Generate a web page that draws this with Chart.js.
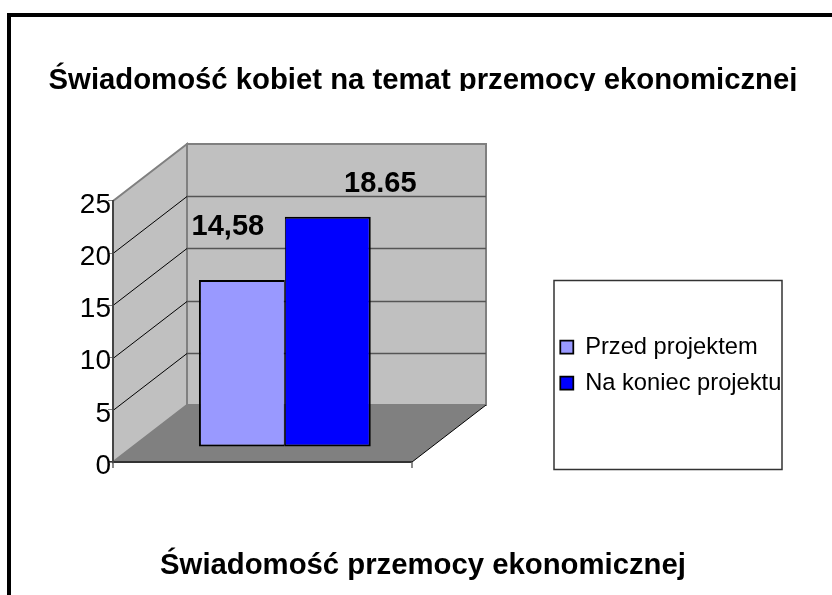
<!DOCTYPE html>
<html><head><meta charset="utf-8">
<script src="https://cdn.jsdelivr.net/npm/chart.js@4"></script>
<style>
html,body{margin:0;padding:0;background:#fff;overflow:hidden}
#frame{position:absolute;left:7px;top:13px;right:0;bottom:-10px;border-top:4px solid #000;border-left:4px solid #000}
canvas{position:absolute;left:14px;top:0}
</style></head><body>
<div id="frame"></div>
<canvas id="c" width="818" height="595"></canvas>
<script>
const categories = ['Świadomość przemocy ekonomicznej'];
const seriesNames = ['Przed projektem', 'Na koniec projektu'];
const beforeValues = [15.95];
const afterValues = [22.0];
const valueLabels = ['14,58', '18.65'];
const seriesColors = ['#9999FF', '#0000FF'];
const titleText = 'Świadomość kobiet na temat przemocy ekonomicznej';
const FONT = '"Liberation Sans", Arial, sans-serif';

const depth = {dx: 74, dy: -57};
const frontWidth = 299;

const scene = {
  id: 'scene',
  beforeDraw(chart) {
    const {ctx, chartArea: a, scales: {y}} = chart;
    const L = a.left, B = y.getPixelForValue(0), T = y.getPixelForValue(25);
    const R = L + frontWidth, bx = L + depth.dx, bR = R + depth.dx;
    const bT = T + depth.dy, bB = B + depth.dy;
    ctx.save();
    ctx.fillStyle = '#C0C0C0';
    ctx.strokeStyle = '#808080';
    ctx.lineWidth = 2;
    ctx.beginPath(); ctx.rect(bx, bT, bR - bx, bB - bT); ctx.fill(); ctx.stroke();
    ctx.beginPath(); ctx.moveTo(L, T); ctx.lineTo(bx, bT); ctx.lineTo(bx, bB); ctx.lineTo(L, B); ctx.closePath(); ctx.fill(); ctx.stroke();
    ctx.fillStyle = '#808080';
    ctx.beginPath(); ctx.moveTo(L, B); ctx.lineTo(bx, bB); ctx.lineTo(bR, bB); ctx.lineTo(R, B); ctx.closePath(); ctx.fill();
    ctx.lineWidth = 1;
    for (const v of [5, 10, 15, 20]) {
      const p = Math.round(y.getPixelForValue(v)) + 0.5;
      ctx.strokeStyle = '#000';
      ctx.beginPath(); ctx.moveTo(L, p); ctx.lineTo(bx, p + depth.dy); ctx.stroke();
      ctx.strokeStyle = '#555';
      ctx.lineWidth = 1.5;
      ctx.beginPath(); ctx.moveTo(bx, p + depth.dy); ctx.lineTo(bR, p + depth.dy); ctx.stroke();
      ctx.lineWidth = 1;
    }
    ctx.strokeStyle = '#000';
    ctx.beginPath(); ctx.moveTo(R, B); ctx.lineTo(bR, bB); ctx.stroke();
    ctx.strokeStyle = '#333';
    ctx.lineWidth = 2;
    ctx.beginPath(); ctx.moveTo(L - 5, B); ctx.lineTo(R, B); ctx.stroke();
    ctx.strokeStyle = '#666';
    ctx.lineWidth = 1.5;
    ctx.beginPath(); ctx.moveTo(L, B); ctx.lineTo(L, B + 6); ctx.moveTo(R, B); ctx.lineTo(R, B + 6); ctx.stroke();
    // legend frame
    ctx.strokeStyle = '#333';
    ctx.lineWidth = 1.5;
    ctx.fillStyle = '#fff';
    ctx.beginPath(); ctx.rect(540, 280.5, 228, 189); ctx.fill(); ctx.stroke();
    ctx.restore();
  },
  afterLayout(chart) {
    const lg = chart.legend;
    lg.left = 534; lg.top = 323; lg.right = lg.left + 240; lg.bottom = lg.top + 110;
  },
  afterDatasetsDraw(chart) {
    const {ctx} = chart;
    const off = [[-14, -53], [52.5, -33]];
    ctx.save();
    ctx.font = 'bold 29px ' + FONT;
    ctx.fillStyle = '#000';
    ctx.textAlign = 'center';
    ctx.textBaseline = 'middle';
    chart.data.datasets.forEach((d, i) => {
      const el = chart.getDatasetMeta(i).data[0];
      ctx.fillText(valueLabels[i], el.x + off[i][0], el.y + off[i][1]);
    });
    ctx.restore();
  },
  afterDraw(chart) {
    // the heading is cut off just under its baseline
    const {ctx} = chart;
    ctx.save();
    ctx.fillStyle = '#fff';
    ctx.fillRect(20, 91, 790, 12);
    ctx.restore();
  }
};

new Chart(document.getElementById('c'), {
  type: 'bar',
  data: {
    labels: categories,
    datasets: [
      {label: seriesNames[0], data: beforeValues, backgroundColor: seriesColors[0], borderColor: '#000', borderWidth: {top: 2, left: 2, bottom: 2, right: 1}, borderSkipped: false, yAxisID: 'bars'},
      {label: seriesNames[1], data: afterValues, backgroundColor: seriesColors[1], borderColor: '#000', borderWidth: {top: 2, left: 1, bottom: 2, right: 2}, borderSkipped: false, yAxisID: 'bars'}
    ]
  },
  options: {
    responsive: false,
    animation: false,
    layout: {padding: 0},
    datasets: {bar: {barPercentage: 1, categoryPercentage: 0.5}},
    plugins: {
      tooltip: {enabled: false},
      title: {display: true, text: titleText, color: '#000', font: {family: FONT, size: 29.3, weight: 'bold'}, padding: {top: 63, bottom: 102.8}},
      subtitle: {display: true, position: 'bottom', text: categories[0], color: '#000', font: {family: FONT, size: 29.3, weight: 'bold'}, padding: {top: 86.4, bottom: 11.4}},
      legend: {display: true, position: 'right', align: 'start',
        labels: {color: '#000', boxWidth: 13, boxHeight: 13, padding: 12.3, font: {family: FONT, size: 23.7}}}
    },
    scales: {
      x: {display: false},
      y: {position: 'left', min: 0, max: 25,
        afterFit(a) { a.width = 99; },
        border: {color: '#444', width: 2},
        grid: {drawOnChartArea: false, drawTicks: true, tickLength: 5, color: '#808080'},
        ticks: {stepSize: 5, padding: -3, labelOffset: 4, color: '#000', font: {family: FONT, size: 28}}},
      bars: {position: 'right', min: -1.48, max: 23.52,
        afterFit(a) { a.width = 239; },
        border: {display: false}, grid: {display: false}, ticks: {display: false}}
    }
  },
  plugins: [scene]
});
</script>
</body></html>
